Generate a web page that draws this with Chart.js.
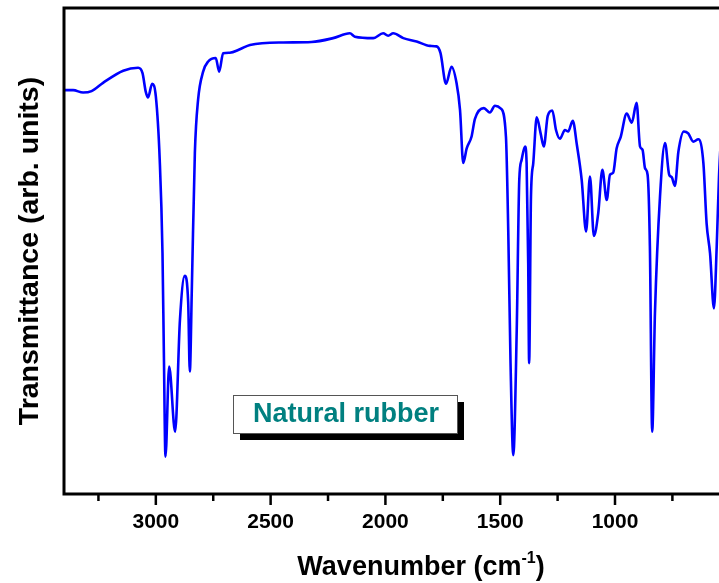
<!DOCTYPE html>
<html lang="en">
<head>
  <meta charset="UTF-8">
  <title>FTIR - Natural rubber</title>
  <script src="https://cdn.jsdelivr.net/npm/chart.js"></script>
  <style>
    html, body { margin: 0; padding: 0; background: #fff; overflow: hidden; }
    #wrap { width: 719px; height: 583px; }
  </style>
</head>
<body>
  <div id="wrap"><canvas id="ftir" width="719" height="583"></canvas></div>

  <script>
    // spectrum (wavenumber in cm-1, transmittance in arb. units)
    const wavenumbers = [
      3400, 3360, 3317, 3280, 3230, 3142, 3077, 3058, 3044, 3034, 3016, 3000,
      2983, 2971, 2965, 2958, 2942, 2916, 2895, 2874, 2859, 2852, 2843, 2830,
      2816, 2794, 2772, 2739, 2724, 2707, 2678, 2634, 2590, 2445, 2322, 2228,
      2155, 2133, 2053, 2010, 1988, 1966, 1922, 1864, 1806, 1777, 1760, 1736,
      1712, 1690, 1675, 1661, 1646, 1625, 1610, 1571, 1545, 1523, 1497, 1475,
      1465, 1455, 1443, 1428, 1417, 1407, 1392, 1385, 1378, 1374, 1366, 1356,
      1341, 1324, 1310, 1293, 1273, 1257, 1240, 1218, 1204, 1184, 1166, 1145,
      1126, 1109, 1092, 1073, 1055, 1036, 1022, 1008, 993, 975, 949, 927,
      906, 891, 880, 869, 858, 848, 838, 826, 804, 782, 764, 753,
      739, 724, 700, 681, 659, 637, 615, 601, 586, 569, 557, 547, 540
    ];
    const transmittance = [
      83.1, 83.1, 82.6, 82.9, 84.6, 87.1, 87.7, 86.6, 82.8, 81.6, 84.4, 81.8,
      68.7, 49.6, 29.0, 7.7, 26.2, 12.8, 35.8, 44.9, 39.3, 25.2, 42.7, 70.2,
      81.1, 86.9, 89.0, 89.7, 86.9, 90.7, 90.8, 91.5, 92.4, 92.9, 93.0, 93.8,
      94.8, 94.1, 93.8, 94.8, 94.3, 94.8, 93.8, 93.1, 92.2, 92.1, 90.7, 84.4,
      87.9, 84.5, 79.0, 68.1, 71.1, 73.5, 77.2, 79.4, 78.5, 79.9, 79.3, 73.5,
      54.3, 26.9, 8.0, 33.8, 64.6, 68.7, 71.5, 68.1, 47.5, 26.9, 61.2, 68.1,
      77.5, 74.2, 71.5, 77.8, 78.9, 74.9, 73.1, 74.9, 74.6, 76.8, 71.8, 64.6,
      54.0, 65.3, 53.1, 57.8, 66.7, 60.5, 65.7, 66.1, 71.1, 73.5, 78.3, 76.4,
      80.5, 71.5, 70.8, 67.0, 65.7, 50.9, 12.8, 37.2, 61.2, 72.2, 65.7, 65.2,
      63.4, 70.4, 74.6, 74.2, 72.5, 73.0, 68.1, 55.7, 49.5, 38.2, 50.9, 65.3, 72.0
    ];
    const majorTicks = [3000, 2500, 2000, 1500, 1000];

    const FONT = "'Liberation Sans', Arial, sans-serif";

    // frame, tick marks, x title with superscript and the boxed label
    const decorations = {
      id: 'decorations',
      afterDraw(chart) {
        const ctx = chart.ctx;
        const a = chart.chartArea;
        const x = chart.scales.x;
        ctx.save();

        // frame (right side is cut off in the original)
        ctx.strokeStyle = '#000';
        ctx.lineWidth = 3;
        ctx.beginPath();
        ctx.moveTo(a.right + 2, a.top);
        ctx.lineTo(a.left, a.top);
        ctx.lineTo(a.left, a.bottom);
        ctx.lineTo(a.right + 2, a.bottom);
        ctx.stroke();

        // ticks: long on labelled values, short in between
        ctx.lineWidth = 2.5;
        x.ticks.forEach(t => {
          const px = x.getPixelForValue(t.value);
          const len = majorTicks.includes(t.value) ? 11 : 7;
          ctx.beginPath();
          ctx.moveTo(px, a.bottom);
          ctx.lineTo(px, a.bottom + len);
          ctx.stroke();
        });

        // x axis title
        ctx.fillStyle = '#000';
        ctx.textBaseline = 'alphabetic';
        ctx.textAlign = 'left';
        const main = 'Wavenumber (cm';
        const sup = '-1';
        const close = ')';
        ctx.font = 'bold 27px ' + FONT;
        const w1 = ctx.measureText(main).width;
        const w3 = ctx.measureText(close).width;
        ctx.font = 'bold 16px ' + FONT;
        const w2 = ctx.measureText(sup).width;
        let tx = 421 - (w1 + w2 + w3) / 2;
        const ty = 575;
        ctx.font = 'bold 27px ' + FONT;
        ctx.fillText(main, tx, ty);
        tx += w1;
        ctx.font = 'bold 16px ' + FONT;
        ctx.fillText(sup, tx, ty - 12);
        tx += w2;
        ctx.font = 'bold 27px ' + FONT;
        ctx.fillText(close, tx, ty);

        // boxed sample label with drop shadow
        const bx = 233, by = 395, bw = 224, bh = 38;
        ctx.fillStyle = '#000';
        ctx.fillRect(bx + 7, by + 7, bw, bh);
        ctx.fillStyle = '#fff';
        ctx.fillRect(bx, by, bw, bh);
        ctx.strokeStyle = '#555';
        ctx.lineWidth = 1;
        ctx.strokeRect(bx + 0.5, by + 0.5, bw, bh);
        ctx.fillStyle = '#008080';
        ctx.font = 'bold 27px ' + FONT;
        ctx.textAlign = 'center';
        ctx.textBaseline = 'middle';
        ctx.fillText('Natural rubber', bx + bw / 2 + 1, by + bh / 2 + 1);

        ctx.restore();
      }
    };

    const points = wavenumbers.map((w, i) => ({ x: w, y: transmittance[i] }));

    new Chart(document.getElementById('ftir'), {
      type: 'line',
      data: {
        datasets: [{
          label: 'Natural rubber',
          data: points,
          borderColor: '#0000ff',
          borderWidth: 2.6,
          pointRadius: 0,
          fill: false,
          cubicInterpolationMode: 'monotone'
        }]
      },
      options: {
        responsive: false,
        animation: false,
        events: [],
        layout: { padding: { top: 8, right: 0, left: 0, bottom: 0 } },
        plugins: {
          legend: { display: false },
          tooltip: { enabled: false }
        },
        scales: {
          x: {
            type: 'linear',
            reverse: true,
            min: 547,
            max: 3400,
            afterFit: s => { s.height = 89; },
            grid: { display: false, drawTicks: false },
            border: { display: false },
            ticks: {
              stepSize: 250,
              includeBounds: false,
              autoSkip: false,
              maxRotation: 0,
              padding: 16,
              color: '#000',
              font: { family: FONT, size: 21, weight: 'bold' },
              callback: v => (majorTicks.includes(v) ? String(v) : '')
            }
          },
          y: {
            min: 0,
            max: 100,
            afterFit: s => { s.width = 64; },
            grid: { display: false, drawTicks: false },
            border: { display: false },
            ticks: { display: false },
            title: {
              display: true,
              text: 'Transmittance (arb. units)',
              color: '#000',
              font: { family: FONT, size: 28.5, weight: 'bold' },
              padding: { top: 13, bottom: 0 }
            }
          }
        }
      },
      plugins: [decorations]
    });
  </script>
</body>
</html>
